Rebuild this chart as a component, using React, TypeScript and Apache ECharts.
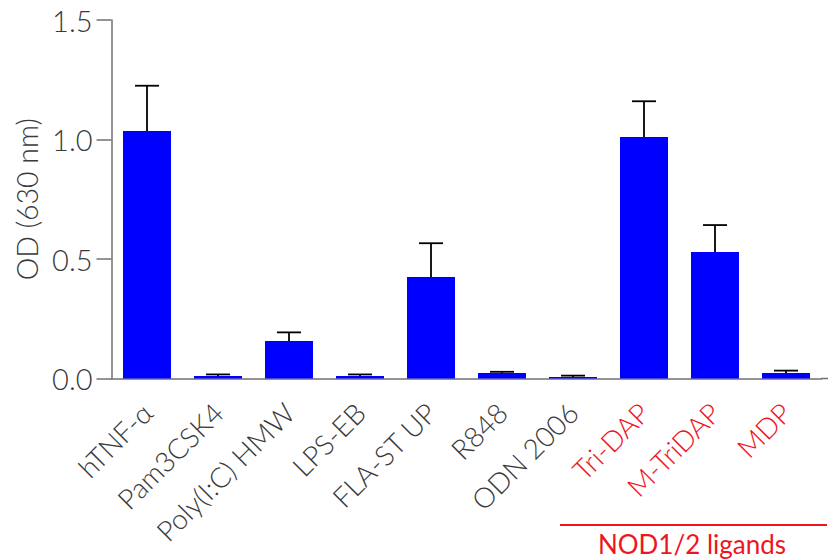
import React, { useEffect, useRef } from "react";
import * as echarts from "echarts";

const categories = ["hTNF-α", "Pam3CSK4", "Poly(I:C) HMW", "LPS-EB", "FLA-ST UP", "R848", "ODN 2006", "Tri-DAP", "M-TriDAP", "MDP"];
const means = [1.036, 0.010, 0.157, 0.010, 0.425, 0.023, 0.006, 1.010, 0.529, 0.023];
const errTops = [1.225, 0.017, 0.193, 0.017, 0.566, 0.028, 0.012, 1.160, 0.642, 0.033];
const redLabels = ["Tri-DAP", "M-TriDAP", "MDP"];
const yTicks = [0, 0.5, 1.0, 1.5];
const groupLabel = "NOD1/2 ligands";

const FONT = "Lato";
const RED = "#f0141e";
const AXIS = "#707070";
const TEXT = "#3a3a3a";

export default function App() {
  const ref = useRef<HTMLDivElement>(null);
  useEffect(() => {
    if (!ref.current) return;
    const chart = echarts.init(ref.current, undefined, { renderer: "svg" });
    const errData = categories.map((_, i) => [i, means[i], errTops[i]]);
    chart.setOption({
      animation: false,
      backgroundColor: "#ffffff",
      grid: { left: 111.5, top: 20, width: 710, height: 358.5, containLabel: false },
      xAxis: {
        type: "category",
        data: categories,
        axisLine: { lineStyle: { color: AXIS, width: 1.5 } },
        axisTick: { alignWithLabel: true, length: 14, lineStyle: { color: AXIS, width: 1.5 } },
        axisLabel: {
          rotate: 45,
          margin: 29,
          interval: 0,
          fontFamily: FONT,
          fontWeight: 300,
          fontSize: 28,
          color: (v: string) => (redLabels.includes(v) ? RED : TEXT),
        },
      },
      yAxis: {
        type: "value",
        min: 0,
        max: 1.5,
        interval: 0.5,
        name: "OD (630 nm)",
        nameLocation: "middle",
        nameGap: 70,
        nameTextStyle: { fontFamily: FONT, fontWeight: 300, fontSize: 28.5, color: TEXT },
        splitLine: { show: false },
        axisLine: { show: true, lineStyle: { color: AXIS, width: 1.5 } },
        axisTick: { show: true, length: 15, lineStyle: { color: AXIS, width: 1.5 } },
        axisLabel: {
          margin: 19,
          fontFamily: FONT,
          fontWeight: 300,
          fontSize: 29,
          color: TEXT,
          formatter: (v: number) => (yTicks.includes(v) ? v.toFixed(1) : ""),
        },
      },
      series: [
        {
          type: "bar",
          data: means,
          barWidth: 48,
          itemStyle: { color: "#0000ff" },
          z: 2,
        },
        {
          type: "custom",
          data: errData,
          z: 3,
          renderItem: (params: any, api: any) => {
            const x = api.value(0);
            const lo = api.coord([x, api.value(1)]);
            const hi = api.coord([x, api.value(2)]);
            const half = 12;
            const style = { stroke: "#000", lineWidth: 1.8 };
            return {
              type: "group",
              children: [
                { type: "line", shape: { x1: lo[0], y1: lo[1], x2: hi[0], y2: hi[1] }, style },
                { type: "line", shape: { x1: hi[0] - half, y1: hi[1], x2: hi[0] + half, y2: hi[1] }, style },
              ],
            };
          },
        },
      ],
      graphic: [
        { type: "line", shape: { x1: 821, y1: 378.5, x2: 828, y2: 378.5 }, style: { stroke: AXIS, lineWidth: 1.5 } },
        { type: "line", shape: { x1: 560, y1: 525, x2: 827, y2: 525 }, style: { stroke: RED, lineWidth: 2 } },
        {
          type: "text",
          x: 692,
          y: 544,
          style: {
            text: groupLabel,
            fill: RED,
            font: `400 26px ${FONT}`,
            textAlign: "center",
            textVerticalAlign: "middle",
          },
        },
      ],
    });
    return () => chart.dispose();
  }, []);
  return <div ref={ref} style={{ position: "absolute", left: 0, top: 0, width: 829, height: 560 }} />;
}
